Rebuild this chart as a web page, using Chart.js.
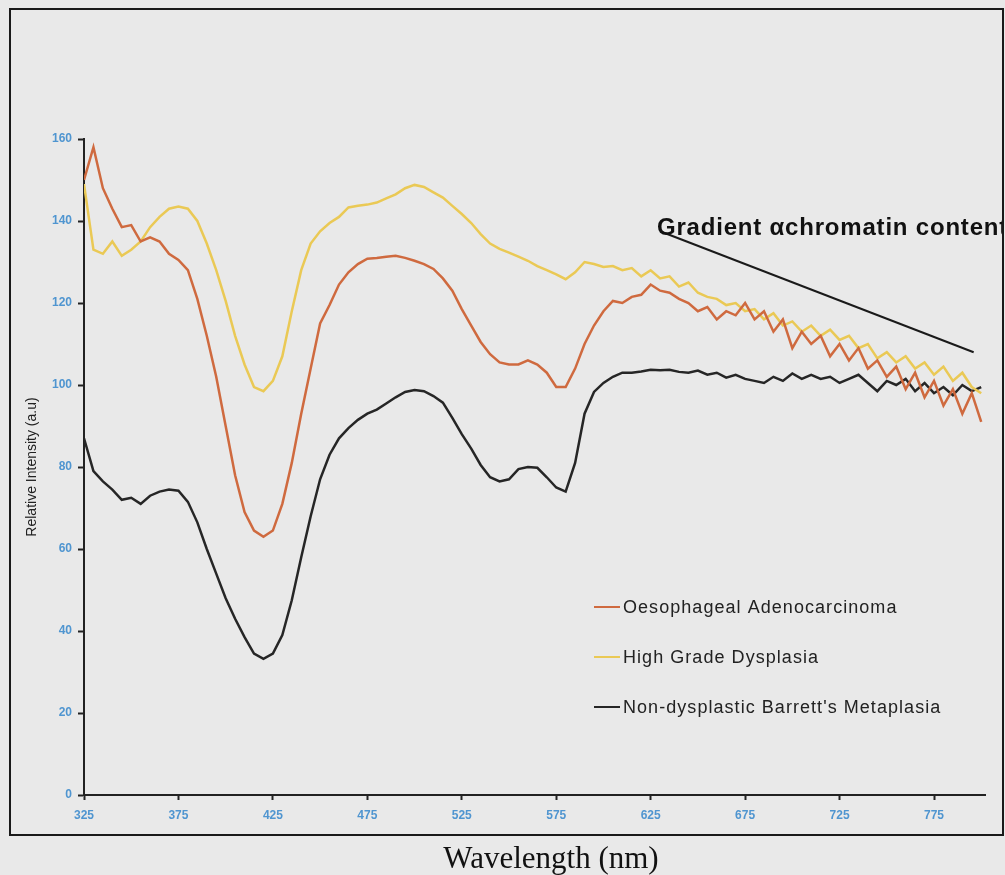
<!DOCTYPE html>
<html>
<head>
<meta charset="utf-8">
<title>Relative intensity spectra</title>
<script src="https://cdn.jsdelivr.net/npm/chart.js"></script>
<style>
  html, body { margin: 0; padding: 0; background: #e9e9e9; }
  #wrap { position: relative; width: 1005px; height: 875px; }
</style>
</head>
<body>
<div id="wrap"><canvas id="spectraChart" width="1005" height="875"></canvas></div>
<script>
// wavelength (nm), one reading every 5 nm
const wavelengths = [
    325, 330, 335, 340, 345, 350, 355, 360, 365, 370, 375, 380, 385, 390, 395, 400,
    405, 410, 415, 420, 425, 430, 435, 440, 445, 450, 455, 460, 465, 470, 475, 480, 485, 490, 495, 500,
    505, 510, 515, 520, 525, 530, 535, 540, 545, 550, 555, 560, 565, 570, 575, 580, 585, 590, 595, 600,
    605, 610, 615, 620, 625, 630, 635, 640, 645, 650, 655, 660, 665, 670, 675, 680, 685, 690, 695, 700,
    705, 710, 715, 720, 725, 730, 735, 740, 745, 750, 755, 760, 765, 770, 775, 780, 785, 790, 795, 800
];

const adenocarcinoma = [
    150, 158, 148, 143, 138.5, 139, 135, 136, 135, 132, 130.5, 128, 121, 112, 102, 90,
    78, 69, 64.5, 63, 64.5, 71, 81, 93, 104, 115, 119.5, 124.5, 127.5, 129.5, 130.8, 131, 131.3, 131.5, 131, 130.3,
    129.5, 128.3, 126, 123, 118.5, 114.5, 110.5, 107.5, 105.5, 105, 105, 106, 105, 103, 99.5, 99.5, 104, 110, 114.5, 118,
    120.5, 120, 121.5, 122, 124.5, 123, 122.5, 121, 120, 118, 119, 116, 118, 117, 120, 116, 118, 113, 116, 109,
    113, 110, 112, 107, 110, 106, 109, 104, 106, 102, 104.5, 99, 103, 97, 101, 95, 99, 93, 98, 91
];

const highGrade = [
    149, 133, 132, 135, 131.5, 133, 135, 138.5, 141, 143, 143.5, 143, 140, 134.5, 128, 120.5,
    112, 105, 99.5, 98.5, 101, 107, 118, 128, 134.5, 137.5, 139.5, 141, 143.3, 143.7, 144, 144.5, 145.5, 146.5, 148, 148.8,
    148.3, 147, 145.7, 143.7, 141.7, 139.5, 136.8, 134.5, 133.2, 132.3, 131.3, 130.3, 129, 128, 127, 125.8, 127.5, 130, 129.5, 128.8,
    129, 128, 128.5, 126.5, 128, 126, 126.5, 124, 125, 122.5, 121.5, 121, 119.5, 120, 118, 118.5, 116, 117.5, 114.5, 115.5,
    113, 114.5, 112, 113.5, 111, 112, 109, 110, 106.5, 108, 105.5, 107, 104, 105.5, 102.5, 104.5, 101, 103, 99.5, 98
];

const barretts = [
    87, 79, 76.5, 74.5, 72, 72.5, 71, 73, 74, 74.5, 74.2, 71.5, 66.5, 60, 54, 48,
    43, 38.5, 34.5, 33.2, 34.5, 39, 47.5, 58, 68, 77, 83, 87, 89.5, 91.5, 93, 94, 95.5, 97, 98.3, 98.8,
    98.5, 97.3, 95.7, 92, 88, 84.5, 80.5, 77.5, 76.5, 77, 79.5, 80, 79.8, 77.5, 75, 74, 81, 93, 98.3, 100.5,
    102, 103, 103, 103.3, 103.7, 103.6, 103.7, 103.2, 103, 103.5, 102.5, 103, 101.8, 102.5, 101.5, 101, 100.5, 102, 101, 102.8,
    101.5, 102.5, 101.5, 102, 100.5, 101.5, 102.5, 100.5, 98.5, 101, 100, 101.5, 98.5, 100.5, 98, 99.5, 97.5, 100, 98.5, 99.5
];

const seriesNames = ['Oesophageal Adenocarcinoma', 'High Grade Dysplasia', "Non-dysplastic Barrett's Metaplasia"];
const seriesColors = ['#cf6a3f', '#eac955', '#262626'];
const xTickLabels = [325, 375, 425, 475, 525, 575, 625, 675, 725, 775];

// annotation: label and the trend line, in data units
const noteText = 'Gradient \u03b1chromatin content';
const noteLineStart = [630, 137.5];
const noteLineEnd = [796, 108];

function toPoints(values) {
    return values.map((v, i) => ({ x: wavelengths[i], y: v }));
}

const tickBlue = '#4f95d0';

// frame, legend, x title and annotation drawn on top of the chart
const extras = {
    id: 'extras',
    afterDraw(chart) {
        const { ctx, scales: { x, y } } = chart;
        ctx.save();

        // legend
        const rows = [607, 657, 707];
        chart.data.datasets.forEach((ds, i) => {
            ctx.strokeStyle = ds.borderColor;
            ctx.lineWidth = 2;
            ctx.beginPath();
            ctx.moveTo(594, rows[i]);
            ctx.lineTo(620, rows[i]);
            ctx.stroke();
            ctx.fillStyle = '#222';
            ctx.font = '18px "Liberation Sans", Arial, sans-serif';
            ctx.letterSpacing = '1.05px';
            ctx.textBaseline = 'middle';
            ctx.fillText(ds.label, 623, rows[i] + 1);
        });
        ctx.letterSpacing = '0px';

        // x axis title, sits a little right of the plot centre
        ctx.fillStyle = '#111';
        ctx.font = '31px "Liberation Serif", "Times New Roman", serif';
        ctx.textAlign = 'center';
        ctx.textBaseline = 'alphabetic';
        ctx.fillText('Wavelength (nm)', 551, 868);
        ctx.textAlign = 'left';

        // gradient line + label
        ctx.strokeStyle = '#1a1a1a';
        ctx.lineWidth = 2;
        ctx.beginPath();
        ctx.moveTo(x.getPixelForValue(noteLineStart[0]), y.getPixelForValue(noteLineStart[1]));
        ctx.lineTo(x.getPixelForValue(noteLineEnd[0]), y.getPixelForValue(noteLineEnd[1]));
        ctx.stroke();

        ctx.save();
        ctx.beginPath();
        ctx.rect(0, 0, 1002, 875);
        ctx.clip();
        ctx.fillStyle = '#111';
        ctx.font = 'bold 24px "Liberation Sans", Arial, sans-serif';
        ctx.letterSpacing = '0.8px';
        ctx.fillText(noteText, 657, 235);
        ctx.restore();

        // outer frame
        ctx.strokeStyle = '#1a1a1a';
        ctx.lineWidth = 2;
        ctx.strokeRect(10, 9, 993, 826);
        ctx.restore();
    }
};

const ctx = document.getElementById('spectraChart').getContext('2d');
new Chart(ctx, {
    type: 'line',
    data: {
        datasets: [
            { label: seriesNames[0], data: toPoints(adenocarcinoma), borderColor: seriesColors[0] },
            { label: seriesNames[1], data: toPoints(highGrade), borderColor: seriesColors[1] },
            { label: seriesNames[2], data: toPoints(barretts), borderColor: seriesColors[2] }
        ]
    },
    options: {
        responsive: false,
        animation: false,
        layout: { padding: { left: 0, right: 20, top: 139, bottom: 0 } },
        elements: {
            line: { borderWidth: 2.5, tension: 0, fill: false },
            point: { radius: 0 }
        },
        plugins: {
            legend: { display: false },
            tooltip: { enabled: false }
        },
        scales: {
            x: {
                type: 'linear',
                min: 325,
                max: 802,
                afterBuildTicks: (scale) => {
                    scale.ticks = xTickLabels.map(v => ({ value: v }));
                },
                afterFit: (scale) => { scale.height = 80; },
                grid: { drawOnChartArea: false, drawTicks: true, tickLength: 5, tickWidth: 2, tickColor: '#222' },
                border: { display: true, color: '#222', width: 2 },
                ticks: {
                    color: tickBlue,
                    padding: 8,
                    maxRotation: 0,
                    autoSkip: false,
                    font: { family: '"Liberation Sans", Arial, sans-serif', size: 12, weight: 'bold' }
                }
            },
            y: {
                min: 0,
                max: 160,
                afterFit: (scale) => { scale.width = 84; },
                grid: { drawOnChartArea: false, drawTicks: true, tickLength: 6, tickWidth: 2, tickColor: '#222' },
                border: { display: true, color: '#222', width: 2 },
                ticks: {
                    stepSize: 20,
                    color: tickBlue,
                    padding: 6,
                    font: { family: '"Liberation Sans", Arial, sans-serif', size: 12, weight: 'bold' }
                },
                title: {
                    display: true,
                    text: 'Relative Intensity (a.u)',
                    color: '#222',
                    padding: { top: 24, bottom: 0 },
                    font: { family: '"Liberation Sans", Arial, sans-serif', size: 14 }
                }
            }
        }
    },
    plugins: [extras]
});
</script>
</body>
</html>
